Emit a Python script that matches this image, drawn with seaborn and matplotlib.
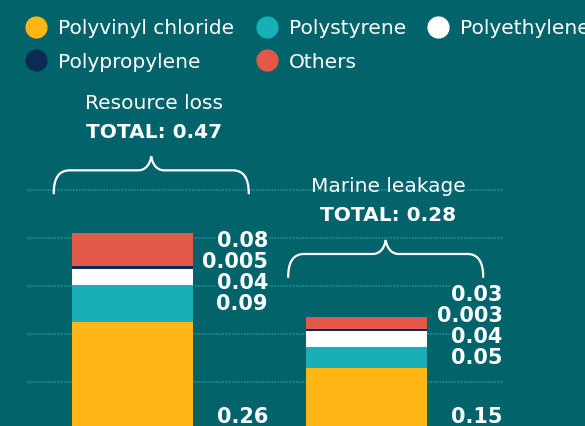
import matplotlib
matplotlib.use("Agg")
import numpy as np
import pandas as pd
import seaborn as sns
import matplotlib.pyplot as plt
import matplotlib.transforms as mtransforms
from matplotlib.path import Path
from matplotlib.patches import PathPatch
from matplotlib.lines import Line2D

# ---------------- data ----------------
groups = ["Resource loss", "Marine leakage"]
totals = [0.47, 0.28]
categories = ["Polyvinyl chloride", "Polystyrene", "Polyethylene", "Polypropylene", "Others"]
pvc = [0.26, 0.15]
polystyrene = [0.09, 0.05]
polyethylene = [0.04, 0.04]
polypropylene = [0.005, 0.003]
others = [0.08, 0.03]
grid_levels = [0.116, 0.232, 0.348, 0.464, 0.580]

# ---------------- style ----------------
BG = "#02636A"
colors = ["#FDB614", "#18AFB9", "#FFFFFF", "#0B2B54", "#E2594A"]
GRID = "#1C9CA5"

sns.set_style("white")
plt.rcParams["font.family"] = ["DejaVu Sans"]

W, H = 585, 426
fig = plt.figure(figsize=(W / 100, H / 100), dpi=100, facecolor=BG)
ax = fig.add_axes([0, 0, 1, 1])
ax.set_facecolor(BG)

layers = np.array([pvc, polystyrene, polyethylene, polypropylene, others])
cum = np.cumsum(layers, axis=0)

# gridlines (dotted, decorative)
ax.hlines(grid_levels, -0.45, 1.584, colors=GRID, linewidth=1.1,
          linestyles=(0, (1, 1)), zorder=0)

# stacked bars: draw cumulative tops from the top layer downward
for k in reversed(range(len(categories))):
    df = pd.DataFrame({"group": groups, "value": cum[k]})
    sns.barplot(data=df, x="group", y="value", color=colors[k], saturation=1,
                width=0.516, linewidth=0, ax=ax, zorder=2)

ax.set_xlim(-0.565, 1.930)
ax.set_ylim(0.00966, 1.0386)
ax.set_axis_off()

bbox_bg = dict(boxstyle="square,pad=0.05", facecolor=BG, edgecolor="none")
LFS = 15

for i, g in enumerate(groups):
    top = cum[-1][i]
    lx = i + 0.578
    # polystyrene label at teal segment center, others stacked above
    ps_mid = pvc[i] + polystyrene[i] / 2
    stack = [polystyrene[i], polyethylene[i], polypropylene[i], others[i]]
    for j, v in enumerate(stack):
        ax.annotate(f"{v:g}", xy=(lx, ps_mid), xytext=(0, 21 * j),
                    textcoords="offset pixels", ha="right", va="center",
                    color="white", fontsize=LFS, fontweight="bold",
                    bbox=bbox_bg, zorder=4, annotation_clip=False)
    ax.annotate(f"{pvc[i]:g}", xy=(lx, 0), xytext=(0, 13),
                textcoords="offset pixels", ha="right", va="center",
                color="white", fontsize=LFS, fontweight="bold",
                bbox=bbox_bg, zorder=4, annotation_clip=False)

    # titles
    tx = i + 0.09
    ax.annotate(f"TOTAL: {totals[i]:.2f}", xy=(tx, top), xytext=(0, 101),
                textcoords="offset pixels", ha="center", va="center",
                color="white", fontsize=14.5, fontweight="bold",
                bbox=dict(boxstyle="square,pad=0.2", facecolor=BG, edgecolor="none"),
                zorder=4, annotation_clip=False)
    ax.annotate(g, xy=(tx, top), xytext=(0, 130),
                textcoords="offset pixels", ha="center", va="center",
                color="white", fontsize=14.5, zorder=4, annotation_clip=False)

    # curly brace in pixel units anchored at bar top
    hw = 97.5
    y0, yh, yt = 40, 63, 77
    verts = [(-hw, y0), (-hw, 55), (-hw + 5, yh), (-hw + 16, yh),
             (-13, yh),
             (-5, yh), (-1, 70), (0, yt),
             (1, 70), (5, yh), (13, yh),
             (hw - 16, yh),
             (hw - 5, yh), (hw, 55), (hw, y0)]
    codes = [Path.MOVETO, Path.CURVE4, Path.CURVE4, Path.CURVE4,
             Path.LINETO,
             Path.CURVE4, Path.CURVE4, Path.CURVE4,
             Path.CURVE4, Path.CURVE4, Path.CURVE4,
             Path.LINETO,
             Path.CURVE4, Path.CURVE4, Path.CURVE4]
    trans = mtransforms.ScaledTranslation(i + 0.08, top, ax.transData)
    patch = PathPatch(Path(verts, codes), facecolor="none", edgecolor="white",
                      linewidth=1.6, transform=trans, zorder=4, capstyle="round")
    ax.add_patch(patch)

# legend
order = [0, 3, 1, 4, 2]
handles = [Line2D([], [], marker="o", linestyle="", markersize=16,
                  markerfacecolor=colors[k], markeredgewidth=0) for k in order]
labels = [categories[k] for k in order]
fig.legend(handles, labels, loc="upper left",
           bbox_to_anchor=(25 / W, 1 - 19 / H), ncol=3, frameon=False,
           fontsize=14.5, handlelength=1.1, handletextpad=0.55,
           columnspacing=1.05, labelspacing=0.72, borderpad=0,
           borderaxespad=0, labelcolor="white")

fig.savefig("out.png", dpi=100, facecolor=BG)
